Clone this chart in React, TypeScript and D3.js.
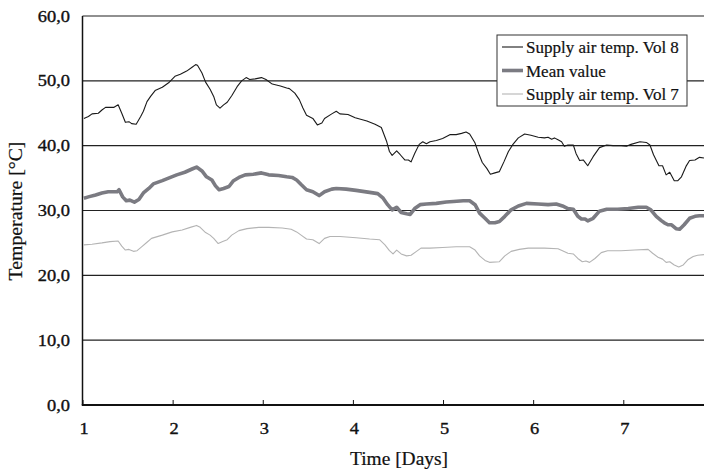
import React from "react";
import * as d3 from "d3";

const vol8Days = [1.01,1.06,1.10,1.17,1.21,1.25,1.34,1.39,1.43,1.47,1.51,1.54,1.59,1.64,1.67,1.71,1.75,1.80,1.88,1.95,2.02,2.08,2.15,2.21,2.25,2.27,2.32,2.36,2.41,2.45,2.48,2.52,2.56,2.60,2.65,2.71,2.76,2.81,2.85,2.91,2.98,3.03,3.10,3.19,3.26,3.29,3.35,3.40,3.44,3.48,3.55,3.60,3.65,3.68,3.76,3.81,3.85,3.94,4.02,4.15,4.24,4.31,4.37,4.40,4.43,4.48,4.52,4.57,4.61,4.64,4.68,4.73,4.77,4.81,4.85,4.92,4.99,5.07,5.14,5.20,5.25,5.29,5.35,5.39,5.43,5.48,5.52,5.57,5.62,5.67,5.72,5.77,5.83,5.90,5.97,6.05,6.12,6.16,6.20,6.23,6.27,6.31,6.34,6.38,6.44,6.47,6.51,6.55,6.60,6.66,6.73,6.81,6.88,6.97,7.03,7.08,7.18,7.25,7.29,7.33,7.39,7.43,7.47,7.51,7.56,7.60,7.64,7.69,7.73,7.79,7.84,7.89];
const vol8Temps = [44.2,44.5,44.9,45.0,45.5,45.9,45.9,46.3,45.0,43.6,43.7,43.4,43.3,44.5,45.3,46.8,47.6,48.5,49.0,49.7,50.7,51.0,51.5,52.1,52.5,52.4,51.2,49.8,48.7,47.6,46.3,45.8,46.3,46.7,47.7,49.1,50.0,50.5,50.2,50.3,50.5,50.2,49.5,49.2,48.9,48.8,48.1,47.1,45.8,44.7,44.2,43.2,43.5,44.2,44.9,45.3,44.9,44.8,44.3,43.8,43.3,42.8,40.6,39.1,38.5,39.2,38.6,37.8,37.8,37.5,38.8,40.2,40.6,40.3,40.6,40.8,41.1,41.7,41.7,41.9,42.1,41.8,40.4,38.8,37.4,36.5,35.6,35.8,36.0,37.5,39.1,40.2,41.2,41.8,41.6,41.3,41.2,41.3,41.0,41.2,40.9,40.6,39.9,40.1,40.1,38.8,37.7,37.8,36.9,38.3,39.7,40.1,40.0,40.0,39.9,40.2,40.6,40.5,40.1,38.6,36.9,36.9,35.5,35.9,34.6,34.6,35.2,36.8,37.7,37.8,38.2,38.1];

const meanDays = [1.01,1.06,1.14,1.21,1.28,1.38,1.40,1.44,1.48,1.52,1.57,1.62,1.67,1.73,1.78,1.88,1.97,2.04,2.13,2.21,2.26,2.32,2.37,2.43,2.47,2.51,2.56,2.62,2.67,2.73,2.80,2.89,2.98,3.06,3.17,3.26,3.32,3.37,3.42,3.48,3.55,3.62,3.68,3.76,3.81,3.92,4.03,4.18,4.27,4.33,4.38,4.43,4.48,4.53,4.59,4.63,4.68,4.74,4.81,4.92,5.03,5.11,5.22,5.29,5.35,5.40,5.46,5.51,5.57,5.62,5.68,5.75,5.83,5.92,6.05,6.16,6.25,6.32,6.38,6.44,6.49,6.53,6.57,6.60,6.66,6.73,6.81,6.93,7.05,7.16,7.25,7.30,7.36,7.42,7.45,7.49,7.53,7.58,7.62,7.67,7.73,7.79,7.84,7.89];
const meanTemps = [31.9,32.1,32.4,32.7,32.9,32.9,33.2,32.1,31.5,31.6,31.3,31.7,32.7,33.4,34.1,34.6,35.1,35.5,35.9,36.4,36.7,36.1,35.2,34.7,33.8,33.2,33.4,33.7,34.6,35.1,35.5,35.6,35.8,35.5,35.4,35.2,35.1,34.7,34.0,33.2,32.9,32.3,32.9,33.3,33.4,33.3,33.1,32.8,32.6,31.9,30.9,30.1,30.5,29.7,29.5,29.4,30.3,30.9,31.0,31.1,31.3,31.4,31.5,31.5,30.9,29.6,28.8,28.1,28.1,28.3,29.1,30.1,30.7,31.1,31.0,30.9,31.0,30.7,30.3,30.2,29.1,28.7,28.7,28.4,28.8,29.9,30.2,30.2,30.3,30.5,30.5,30.1,29.1,28.4,28.1,27.8,27.8,27.2,27.1,27.8,28.8,29.1,29.2,29.2];

const vol7Days = [1.01,1.10,1.21,1.30,1.39,1.43,1.47,1.51,1.56,1.60,1.65,1.71,1.76,1.88,1.99,2.10,2.19,2.26,2.30,2.36,2.41,2.45,2.50,2.55,2.60,2.65,2.73,2.82,2.95,3.06,3.21,3.31,3.37,3.42,3.48,3.55,3.62,3.68,3.74,3.85,4.03,4.18,4.29,4.35,4.40,4.44,4.48,4.53,4.59,4.64,4.70,4.75,4.85,4.99,5.14,5.29,5.35,5.40,5.46,5.51,5.62,5.68,5.75,5.84,5.94,6.12,6.27,6.32,6.38,6.44,6.49,6.54,6.58,6.62,6.68,6.75,6.82,6.97,7.12,7.27,7.32,7.38,7.43,7.47,7.51,7.56,7.61,7.66,7.71,7.77,7.82,7.89];
const vol7Temps = [24.7,24.8,25.0,25.2,25.3,24.5,23.9,24.0,23.7,23.8,24.4,25.1,25.7,26.2,26.7,27.0,27.4,27.7,27.4,26.6,26.2,25.7,24.9,25.2,25.5,26.2,26.9,27.2,27.4,27.4,27.3,27.1,26.7,26.2,25.6,25.5,24.9,25.7,26.0,26.0,25.8,25.6,25.5,24.7,23.8,23.3,23.9,23.3,23.0,23.1,23.7,24.2,24.2,24.3,24.4,24.4,23.9,23.0,22.3,22.0,22.1,23.0,23.7,24.0,24.2,24.2,24.1,23.8,23.4,23.3,22.6,22.1,22.2,22.0,22.6,23.5,23.8,23.8,23.9,24.0,23.4,22.8,22.5,22.0,22.1,21.6,21.3,21.6,22.4,22.9,23.1,23.2];

const dayTicks = [1, 2, 3, 4, 5, 6, 7];
const tempTicks = [0, 10, 20, 30, 40, 50, 60];
const legendLabels = ["Supply air temp. Vol 8", "Mean value", "Supply air temp. Vol 7"];

const W = 704;
const H = 471;
const left = 82.5;
const right = 704;
const top = 16;
const bottom = 405;
const FONT = "'Liberation Serif', 'Times New Roman', serif";
const TXT = "#111";
const TS = 0.35;

export default function App() {
  const x = d3.scaleLinear().domain([1, 7.89]).range([83, right]);
  const y = d3.scaleLinear().domain([0, 60]).range([bottom, top]);

  const mk = (ds: number[], ts: number[]) =>
    d3.line<number>().x((_, i) => x(ds[i])).y((t) => y(t))(ts) || "";

  const series = [
    { d: mk(vol8Days, vol8Temps), color: "#1a1a1a", width: 1.1 },
    { d: mk(meanDays, meanTemps), color: "#7b7b82", width: 3.6 },
    { d: mk(vol7Days, vol7Temps), color: "#b4b4b4", width: 1.1 },
  ];

  const fmt = (v: number) => v.toFixed(1).replace(".", ",");

  return (
    <svg
      width={W}
      height={H}
      style={{ position: "absolute", left: 0, top: 0, background: "#fff" }}
      fontFamily={FONT}
    >
      {tempTicks.filter((t) => t > 0).map((t) => (
        <line key={t} x1={left} x2={right} y1={y(t)} y2={y(t)} stroke="#222" strokeWidth={1.2} />
      ))}
      {tempTicks.map((t) => (
        <text
          key={"yl" + t}
          transform={`translate(70,${y(t) + 5.5}) scale(1.15,1)`}
          textAnchor="end"
          fontSize={16}
          fill={TXT}
          stroke={TXT}
          strokeWidth={TS}
        >
          {fmt(t)}
        </text>
      ))}
      {dayTicks.map((d) => (
        <g key={"x" + d}>
          <line x1={x(d)} x2={x(d)} y1={bottom} y2={bottom - 5} stroke="#111" strokeWidth={1} />
          <text
            transform={`translate(${x(d) + 1},${433.5}) scale(1.15,1)`}
            textAnchor="middle"
            fontSize={16}
            fill={TXT}
            stroke={TXT}
            strokeWidth={TS}
          >
            {d}
          </text>
        </g>
      ))}
      {series.map((s, i) => (
        <path key={i} d={s.d} fill="none" stroke={s.color} strokeWidth={s.width} strokeLinejoin="round" />
      ))}
      <line x1={left} x2={left} y1={top} y2={bottom} stroke="#111" strokeWidth={1.5} />
      <line x1={left - 0.75} x2={right} y1={bottom} y2={bottom} stroke="#111" strokeWidth={2} />
      <text
        transform={`translate(399,465) scale(1.08,1)`}
        textAnchor="middle"
        fontSize={18}
        fill={TXT}
        stroke={TXT}
        strokeWidth={0.2}
      >
        Time [Days]
      </text>
      <text
        transform={`translate(22,211) rotate(-90) scale(1.1,1)`}
        textAnchor="middle"
        fontSize={18}
        fill={TXT}
        stroke={TXT}
        strokeWidth={0.2}
      >
        Temperature [°C]
      </text>
      <rect x={497} y={35} width={190} height={71} fill="#fff" stroke="#333" strokeWidth={1} />
      {legendLabels.map((lab, i) => (
        <g key={lab}>
          <line
            x1={502}
            x2={523}
            y1={47 + i * 23.5}
            y2={47 + i * 23.5}
            stroke={series[i].color}
            strokeWidth={series[i].width}
          />
          <text
            x={526}
            y={53 + i * 23.5}
            fontSize={17}
            fill={TXT}
            stroke={TXT}
            strokeWidth={0.2}
          >
            {lab}
          </text>
        </g>
      ))}
    </svg>
  );
}
